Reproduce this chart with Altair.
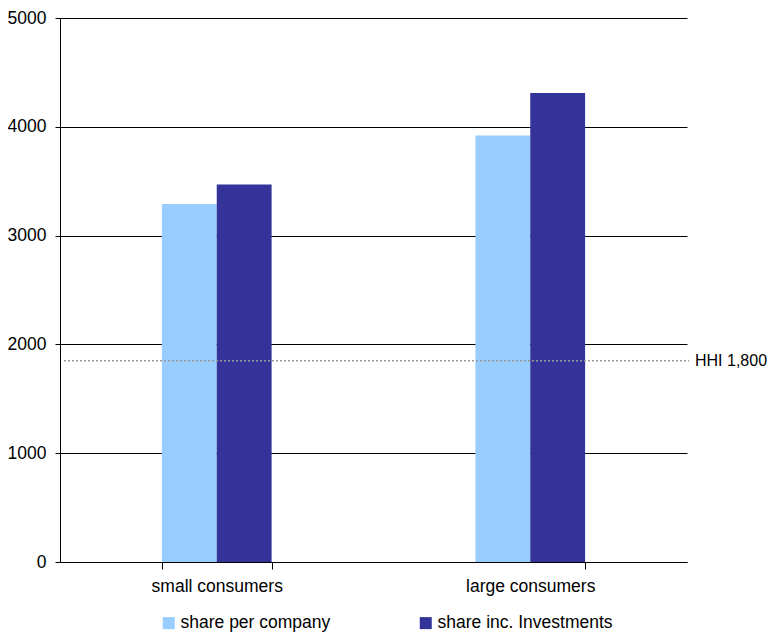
import altair as alt
import pandas as pd

categories = ["small consumers", "large consumers"]
series = ["share per company", "share inc. Investments"]
share_per_company = [3290, 3920]
share_inc_investments = [3470, 4310]
hhi_value = [1850]
hhi_label = ["HHI 1,800"]
y_ticks = [0, 1000, 2000, 3000, 4000, 5000]
colors = ["#99CCFF", "#333399"]

rows = []
for i, c in enumerate(categories):
    rows.append({"category": c, "series": series[0], "value": share_per_company[i]})
    rows.append({"category": c, "series": series[1], "value": share_inc_investments[i]})
df = pd.DataFrame(rows)
hhi = pd.DataFrame({"value": hhi_value, "label": hhi_label})

W, H = 627, 544
FONT = "Liberation Sans"
FS = 17.5

bars = alt.Chart(df).mark_bar().encode(
    x=alt.X("category:N", sort=categories, title=None,
            scale=alt.Scale(paddingInner=0.65, paddingOuter=0.325),
            axis=alt.Axis(labelAngle=0, tickBand="extent", tickSize=7, labelPadding=8,
                          domainColor="black", tickColor="black", grid=False,
                          labelFontSize=FS, labelFont=FONT, labelColor="black")),
    xOffset=alt.XOffset("series:N", sort=series,
                        scale=alt.Scale(paddingInner=0, paddingOuter=0)),
    y=alt.Y("value:Q", title=None, scale=alt.Scale(domain=[0, 5000]),
            axis=alt.Axis(values=y_ticks, tickSize=5, labelPadding=9, format="d",
                          domainColor="black", tickColor="black", gridColor="black",
                          gridWidth=1, labelFontSize=FS, labelFont=FONT, labelColor="black")),
    color=alt.Color("series:N", sort=series,
                    scale=alt.Scale(domain=series, range=colors),
                    legend=alt.Legend(title=None, orient="none", legendX=100, legendY=596,
                                      direction="horizontal", symbolType="square",
                                      symbolSize=144, symbolStrokeWidth=0,
                                      labelFontSize=FS, labelFont=FONT, labelColor="black",
                                      columnPadding=86, labelOffset=3, labelLimit=400)),
)

rule = alt.Chart(hhi).mark_rule(strokeDash=[2, 2], color="#999999", strokeWidth=1.5).encode(
    y="value:Q", x=alt.value(4), x2=alt.value(W + 2)
)

label = alt.Chart(hhi).mark_text(align="left", baseline="middle", fontSize=16, font=FONT,
                                 color="black").encode(
    y="value:Q", x=alt.value(W + 8), text="label:N"
)

chart = alt.layer(bars, rule, label).properties(
    width=W, height=H,
    autosize=alt.AutoSizeParams(type="none"),
    padding={"left": 52, "top": 10, "right": 81, "bottom": 70},
).configure_view(stroke=None)

chart.save("out.html", embed_options={"renderer": "svg", "actions": False})
